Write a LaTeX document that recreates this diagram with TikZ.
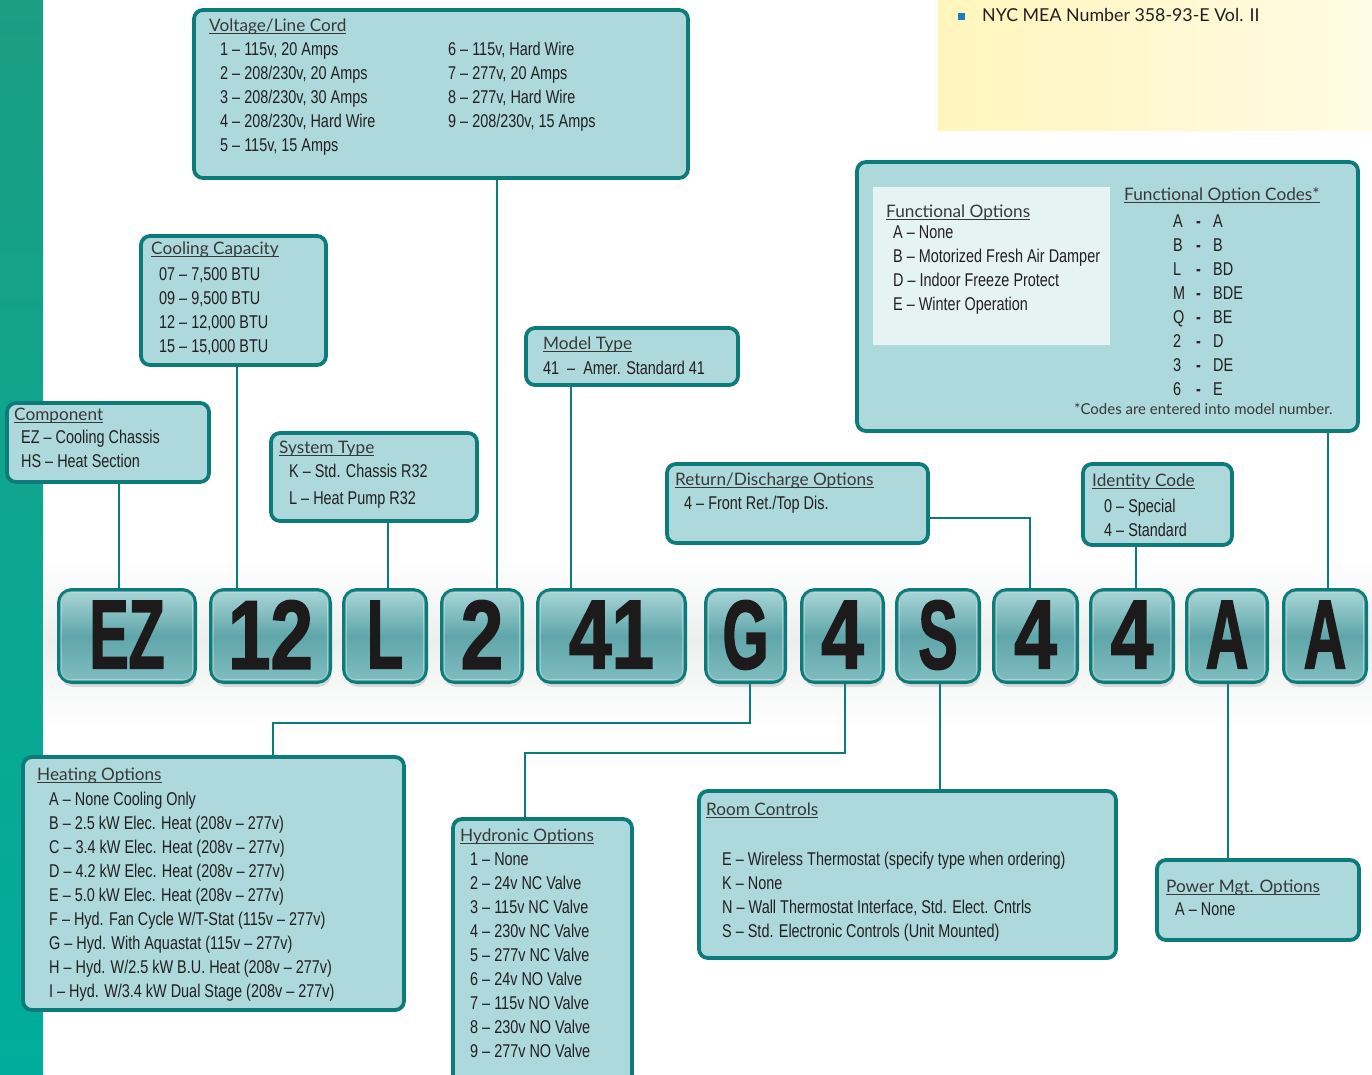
\documentclass[tikz,border=0pt]{standalone}
\usepackage{fontspec}
\setmainfont{Liberation Sans}
\newfontfamily\bodyf[FakeStretch=0.78]{Liberation Sans}
\newfontfamily\headf{Lato}
\newfontfamily\bigL[FakeStretch=0.6,FakeBold=1.6]{Liberation Sans}
\newfontfamily\bigD[FakeStretch=0.78,FakeBold=1.6]{Liberation Sans}
\usetikzlibrary{shadows}
\definecolor{tealdk}{HTML}{0E7B7B}
\definecolor{boxfill}{HTML}{ADD9DC}
\definecolor{panelc}{HTML}{E6F3F3}
\definecolor{inkc}{HTML}{231F20}
\definecolor{headc}{HTML}{383838}
\definecolor{codeink}{HTML}{1C1A1A}
\definecolor{cbTop}{HTML}{AAD6D8}
\definecolor{cbMid}{HTML}{5FA6AA}
\definecolor{cbBot}{HTML}{80BDC0}
\definecolor{stripTop}{HTML}{1B9E82}
\definecolor{stripBot}{HTML}{00AD9C}
\definecolor{bandc}{HTML}{EDEFEF}
\definecolor{yelA}{HTML}{FFF5BC}
\definecolor{yelB}{HTML}{FFFBE4}
\definecolor{bulletc}{HTML}{1A7DC2}
\newcommand{\hul}[1]{\setbox0=\hbox{#1}\rlap{\rule[-2.4pt]{\wd0}{0.9pt}}\box0}
\tikzset{
 conn/.style={draw=tealdk, line width=2.6pt},
 infobox/.style={draw=tealdk, line width=3.8pt, fill=boxfill, rounded corners=9pt, inner sep=0pt},
 codebox/.style={draw=tealdk, line width=4pt, rounded corners=13pt, inner sep=0pt, minimum height=92pt,
   shading=axis, top color=cbTop, bottom color=cbBot, middle color=cbMid,
   drop shadow={opacity=.25, shadow xshift=1.5pt, shadow yshift=-5pt}, text=codeink},
 codeL/.style={codebox, font=\bigL\bfseries\fontsize{98}{98}\selectfont},
 codeD/.style={codebox, font=\bigD\bfseries\fontsize{98}{98}\selectfont},
 item/.style={anchor=base west, inner sep=0pt, text=inkc, font=\bodyf\fontsize{18.5}{20}\selectfont},
 head/.style={anchor=base west, inner sep=0pt, text=headc, font=\headf\fontsize{17.2}{20}\selectfont},
}
\begin{document}
\begin{tikzpicture}[x=1pt,y=-1pt]
\useasboundingbox (0,0) rectangle (1372,1074);
\fill[white] (0,0) rectangle (1372,1074);
% background pieces
\shade[top color=stripTop, bottom color=stripBot] (0,0) rectangle (43,1074);
\shade[top color=white, bottom color=white, middle color=bandc] (43,557) rectangle (1372,727);
\shade[left color=yelA, right color=yelB] (938,0) rectangle (1372,130);
\fill[bulletc] (958,13) rectangle (965,20);
\node[anchor=base west, inner sep=0pt, text=inkc, font=\headf\fontsize{17.8}{20}\selectfont] (nyc) at (982,21) {NYC MEA Number 358-93-E Vol. II};

% info boxes
\node[infobox, minimum width=494pt, minimum height=168pt] (volt) at (441,94) {};
\node[infobox, minimum width=185pt, minimum height=129pt] (cool) at (233.5,300.5) {};
\node[infobox, minimum width=202pt, minimum height=79pt] (comp) at (108,442.5) {};
\node[infobox, minimum width=206pt, minimum height=88pt] (sys) at (374,477) {};
\node[infobox, minimum width=212pt, minimum height=57pt] (model) at (632,356.5) {};
\node[infobox, minimum width=501pt, minimum height=269pt] (func) at (1107.5,296.5) {};
\node[infobox, minimum width=261pt, minimum height=79pt] (ret) at (797.5,503.5) {};
\node[infobox, minimum width=149pt, minimum height=81pt] (ident) at (1157.5,504.5) {};
\node[infobox, minimum width=381pt, minimum height=253pt] (heat) at (213.5,883.5) {};
\node[infobox, minimum width=179pt, minimum height=269pt] (hyd) at (542.5,953.5) {};
\node[infobox, minimum width=417pt, minimum height=167pt] (room) at (907.5,874.5) {};
\node[infobox, minimum width=202pt, minimum height=80pt] (power) at (1258,900) {};
\fill[panelc] (873,187) rectangle (1110,345);

% Voltage / Line Cord
\node[head] (volt-h) at (209,31) {\hul{Voltage/Line Cord}};
\foreach \t [count=\i] in {{1 – 115v, 20 Amps},{2 – 208/230v, 20 Amps},{3 – 208/230v, 30 Amps},{4 – 208/230v, Hard Wire},{5 – 115v, 15 Amps}}
  \node[item] (volt-a\i) at (220,{55+24*(\i-1)}) {\t};
\foreach \t [count=\i] in {{6 – 115v, Hard Wire},{7 – 277v, 20 Amps},{8 – 277v, Hard Wire},{9 – 208/230v, 15 Amps}}
  \node[item] (volt-b\i) at (448,{55+24*(\i-1)}) {\t};

% Cooling Capacity
\node[head] (cool-h) at (151,254) {\hul{Cooling Capacity}};
\foreach \t [count=\i] in {{07 – 7,500 BTU},{09 – 9,500 BTU},{12 – 12,000 BTU},{15 – 15,000 BTU}}
  \node[item] (cool-a\i) at (159,{280+24*(\i-1)}) {\t};

% Component
\node[head] (comp-h) at (14,420) {\hul{Component}};
\node[item] (comp-a1) at (21,443) {EZ – Cooling Chassis};
\node[item] (comp-a2) at (21,467) {HS – Heat Section};

% System Type
\node[head] (sys-h) at (279,453) {\hul{System Type}};
\node[item] (sys-a1) at (289,477) {K – Std. Chassis R32};
\node[item] (sys-a2) at (289,504) {L – Heat Pump R32};

% Model Type
\node[head] (model-h) at (543,349) {\hul{Model Type}};
\node[item] (model-a1) at (543,374) {41\hspace{8pt}–\hspace{8pt}Amer. Standard 41};

% Functional options
\node[head] (fo-h) at (886,217) {\hul{Functional Options}};
\foreach \t [count=\i] in {{A – None},{B – Motorized Fresh Air Damper},{D – Indoor Freeze Protect},{E – Winter Operation}}
  \node[item] (fo-a\i) at (893,{238+24*(\i-1)}) {\t};
\node[head] (fc-h) at (1124,200) {\hul{Functional Option Codes*}};
\foreach \a/\b [count=\i] in {A/A,B/B,L/BD,M/BDE,Q/BE,2/D,3/DE,6/E} {
  \node[item] (fc\i) at (1173,{227+24*(\i-1)}) {\a};
  \node[item] (fd\i) at (1196,{227+24*(\i-1)}) {\bfseries -};
  \node[item] (fv\i) at (1213,{227+24*(\i-1)}) {\b};
}
\node[anchor=base west, inner sep=0pt, text=headc, font=\headf\fontsize{15}{16}\selectfont] (fnote) at (1074,414) {*Codes are entered into model number.};

% Return / Discharge
\node[head] (ret-h) at (675,485) {\hul{Return/Discharge Options}};
\node[item] (ret-a1) at (684,509) {4 – Front Ret./Top Dis.};

% Identity Code
\node[head] (ident-h) at (1092,486) {\hul{Identity Code}};
\node[item] (ident-a1) at (1104,512) {0 – Special};
\node[item] (ident-a2) at (1104,536) {4 – Standard};

% Heating Options
\node[head] (heat-h) at (37,780) {\hul{Heating Options}};
\foreach \t [count=\i] in {{A – None Cooling Only},{B – 2.5 kW Elec. Heat (208v – 277v)},{C – 3.4 kW Elec. Heat (208v – 277v)},{D – 4.2 kW Elec. Heat (208v – 277v)},{E – 5.0 kW Elec. Heat (208v – 277v)},{F – Hyd. Fan Cycle W/T-Stat (115v – 277v)},{G – Hyd. With Aquastat (115v – 277v)},{H – Hyd. W/2.5 kW B.U. Heat (208v – 277v)},{I – Hyd. W/3.4 kW Dual Stage (208v – 277v)}}
  \node[item] (heat-a\i) at (49,{805+24*(\i-1)}) {\t};

% Hydronic Options
\node[head] (hyd-h) at (460,841) {\hul{Hydronic Options}};
\foreach \t [count=\i] in {{1 – None},{2 – 24v NC Valve},{3 – 115v NC Valve},{4 – 230v NC Valve},{5 – 277v NC Valve},{6 – 24v NO Valve},{7 – 115v NO Valve},{8 – 230v NO Valve},{9 – 277v NO Valve}}
  \node[item] (hyd-a\i) at (470,{865+24*(\i-1)}) {\t};

% Room Controls
\node[head] (room-h) at (706,815) {\hul{Room Controls}};
\foreach \t [count=\i] in {{E – Wireless Thermostat (specify type when ordering)},{K – None},{N – Wall Thermostat Interface, Std. Elect. Cntrls},{S – Std. Electronic Controls (Unit Mounted)}}
  \node[item] (room-a\i) at (722,{865+24*(\i-1)}) {\t};

% Power Mgt
\node[head] (power-h) at (1166,892) {\hul{Power Mgt. Options}};
\node[item] (power-a1) at (1175,915) {A – None};

% code boxes
\node[codeL, minimum width=136pt] (c1) at (127,636) {\raisebox{3pt}{EZ}};
\node[codeD, minimum width=119pt] (c2) at (270.5,636) {\raisebox{3pt}{12}};
\node[codeL, minimum width=82pt] (c3) at (385,636) {\raisebox{3pt}{L}};
\node[codeD, minimum width=80pt] (c4) at (482,636) {\raisebox{3pt}{2}};
\node[codeD, minimum width=147pt] (c5) at (611.5,636) {\raisebox{3pt}{41}};
\node[codeL, minimum width=79pt] (c6) at (745.5,636) {\raisebox{3pt}{G}};
\node[codeD, minimum width=81pt] (c7) at (842.5,636) {\raisebox{3pt}{4}};
\node[codeL, minimum width=82pt] (c8) at (938,636) {\raisebox{3pt}{S}};
\node[codeD, minimum width=83pt] (c9) at (1035.5,636) {\raisebox{3pt}{4}};
\node[codeD, minimum width=82pt] (c10) at (1132,636) {\raisebox{3pt}{4}};
\node[codeL, minimum width=80pt] (c11) at (1227,636) {\raisebox{3pt}{A}};
\node[codeL, minimum width=82pt] (c12) at (1325,636) {\raisebox{3pt}{A}};
\foreach \n in {c1,c2,c3,c4,c5,c6,c7,c8,c9,c10,c11,c12}
  \draw[white, opacity=.55, line width=1.2pt, rounded corners=10pt]
    ([xshift=4pt,yshift=-4pt]\n.north west) rectangle ([xshift=-4pt,yshift=4pt]\n.south east);

% junction coordinates
\coordinate (pEZ) at (119,0);
\coordinate (p12) at (237,0);
\coordinate (pL) at (388,0);
\coordinate (p2) at (497,0);
\coordinate (p41) at (571,0);
\coordinate (rj) at (1030,518);
\coordinate (pId) at (1136,0);
\coordinate (pFn) at (1328,0);
\coordinate (gj1) at (750,723);
\coordinate (gj2) at (273,723);
\coordinate (hj1) at (845,753);
\coordinate (hj2) at (525,753);
\coordinate (pS) at (940,0);
\coordinate (pA) at (1228,0);

% connectors
\draw[conn] (comp.south -| pEZ) -- (c1.north -| pEZ);
\draw[conn] (cool.south -| p12) -- (c2.north -| p12);
\draw[conn] (sys.south -| pL) -- (c3.north -| pL);
\draw[conn] (volt.south -| p2) -- (c4.north -| p2);
\draw[conn] (model.south -| p41) -- (c5.north -| p41);
\draw[conn] (ret.east |- rj) -- (rj) -- (c9.north -| rj);
\draw[conn] (ident.south -| pId) -- (c10.north -| pId);
\draw[conn] (func.south -| pFn) -- (c12.north -| pFn);
\draw[conn] (c6.south -| gj1) -- (gj1) -- (gj2) -- (heat.north -| gj2);
\draw[conn] (c7.south -| hj1) -- (hj1) -- (hj2) -- (hyd.north -| hj2);
\draw[conn] (c8.south -| pS) -- (room.north -| pS);
\draw[conn] (c11.south -| pA) -- (power.north -| pA);
\end{tikzpicture}
\end{document}
